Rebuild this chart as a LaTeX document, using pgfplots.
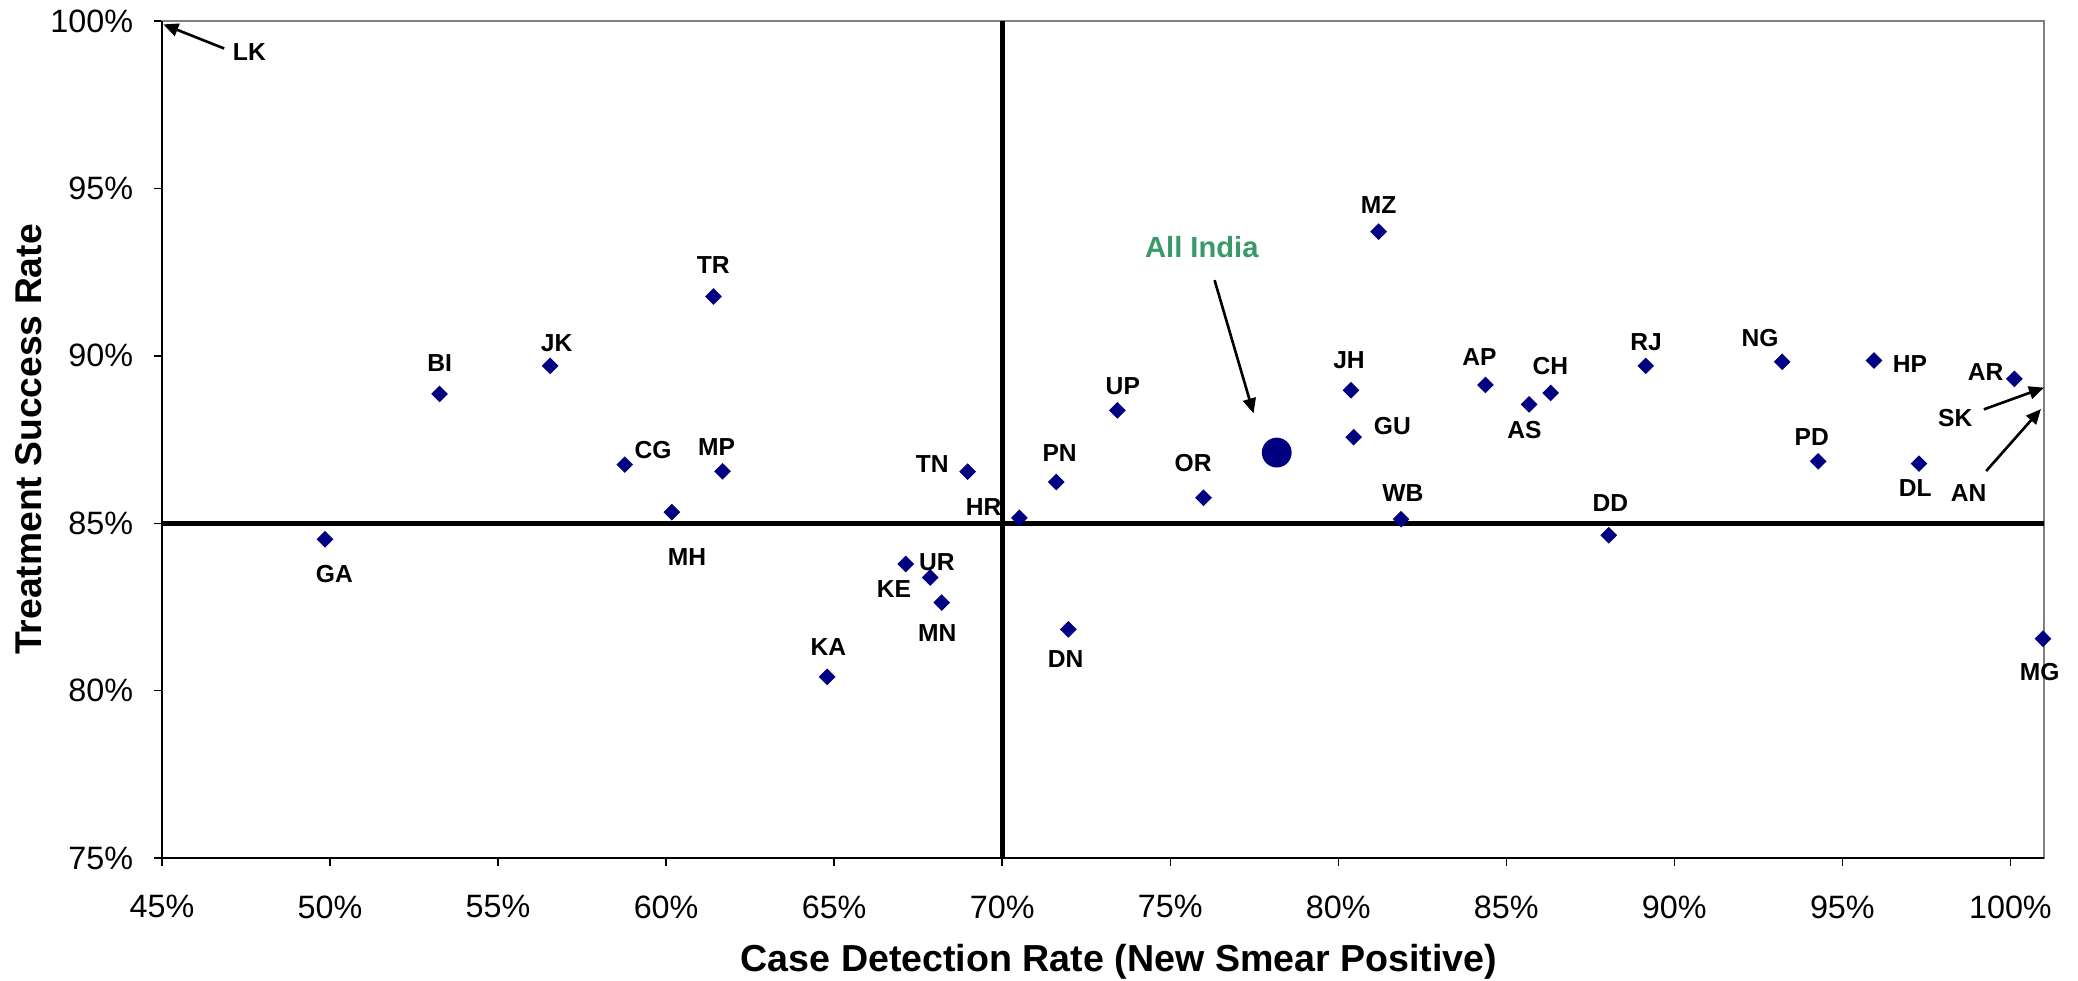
\documentclass[border=0pt]{standalone}
\usepackage{fontspec}
\setmainfont{Liberation Sans}
\usepackage{pgfplots}
\pgfplotsset{compat=1.18}
\usetikzlibrary{arrows.meta}
\definecolor{navyblue}{RGB}{0,0,128}
\definecolor{indiagreen}{RGB}{56,154,104}
\tikzset{lbl/.style={font=\bfseries\fontsize{7.0}{8}\selectfont}}
\begin{document}
\begin{tikzpicture}
\useasboundingbox (-16.2mm,-12.2mm) rectangle (191.6mm,85.8mm);
\begin{axis}[
  name=ax,
  at={(0,0)}, anchor=south west,
  scale only axis,
  width=188.2mm, height=83.7mm,
  xmin=45, xmax=101, ymin=75, ymax=100,
  xtick={45,50,55,60,65,70,75,80,85,90,95,100},
  ytick={75,80,85,90,95,100},
  /pgf/number format/assume math mode=true,
  xticklabel={\pgfmathprintnumber{\tick}\%},
  yticklabel={\pgfmathprintnumber{\tick}\%},
  tick label style={font=\fontsize{9.2}{11}\selectfont},
  tick align=outside, tick pos=left,
  major tick length=0.8mm,
  tick style={black, line width=0.4pt},
  axis line style={draw=gray, line width=0.4pt},
  clip=false,
  xticklabel style={yshift=-1.7mm},
  yticklabel style={xshift=-0.85mm},
]
% reference lines
\addplot[black, line width=0.5mm, forget plot] coordinates {(70,75) (70,100)};
\addplot[black, line width=0.5mm, forget plot] coordinates {(45,85) (101,85)};
% states
\addplot[only marks, mark=square*, mark size=0.52mm,
  mark options={rotate=45, fill=navyblue, draw=navyblue}] coordinates {
(49.85,84.52) (53.26,88.86) (56.55,89.70) (58.77,86.75) (60.17,85.33)
(61.68,86.55) (61.41,91.77) (64.79,80.41) (67.13,83.78) (67.86,83.38)
(68.20,82.63) (68.97,86.54) (70.51,85.16) (71.61,86.23) (71.97,81.83)
(73.43,88.37) (75.99,85.76) (80.38,88.97) (80.46,87.57) (81.20,93.71)
(81.87,85.12) (84.38,89.13) (85.68,88.55) (86.32,88.89) (88.05,84.64)
(89.15,89.70) (93.21,89.82) (94.28,86.85) (95.94,89.86) (97.28,86.78)
(100.12,89.31) (100.97,81.55)
};
% All India
\addplot[only marks, mark=*, mark size=1.42mm, mark options={fill=navyblue, draw=navyblue}] coordinates {(78.17,87.11)};
% axis lines left/bottom black
\draw[black, line width=0.4pt] (axis cs:45,100) -- (axis cs:45,75) -- (axis cs:101,75);
% labels
\node[lbl] at (axis cs:47.6,99.06) {LK};
\node[lbl] at (axis cs:50.13,83.48) {GA};
\node[lbl] at (axis cs:53.26,89.78) {BI};
\node[lbl] at (axis cs:56.74,90.37) {JK};
\node[lbl] at (axis cs:61.40,92.71) {TR};
\node[lbl] at (axis cs:59.61,87.19) {CG};
\node[lbl] at (axis cs:61.50,87.29) {MP};
\node[lbl] at (axis cs:60.62,83.98) {MH};
\node[lbl] at (axis cs:64.83,81.31) {KA};
\node[lbl] at (axis cs:67.92,86.77) {TN};
\node[lbl] at (axis cs:71.71,87.11) {PN};
\node[lbl] at (axis cs:69.45,85.47) {HR};
\node[lbl] at (axis cs:68.06,83.85) {UR};
\node[lbl] at (axis cs:66.78,83.03) {KE};
\node[lbl] at (axis cs:68.07,81.71) {MN};
\node[lbl] at (axis cs:71.89,80.93) {DN};
\node[lbl] at (axis cs:73.59,89.10) {UP};
\node[lbl] at (axis cs:75.68,86.79) {OR};
\node[lbl] at (axis cs:81.20,94.49) {MZ};
\node[lbl] at (axis cs:80.32,89.87) {JH};
\node[lbl] at (axis cs:81.61,87.90) {GU};
\node[lbl] at (axis cs:81.92,85.91) {WB};
\node[lbl] at (axis cs:84.20,89.97) {AP};
\node[lbl] at (axis cs:85.54,87.78) {AS};
\node[lbl] at (axis cs:86.31,89.70) {CH};
\node[lbl] at (axis cs:88.10,85.59) {DD};
\node[lbl] at (axis cs:89.16,90.41) {RJ};
\node[lbl] at (axis cs:92.55,90.53) {NG};
\node[lbl] at (axis cs:97.01,89.74) {HP};
\node[lbl] at (axis cs:94.09,87.57) {PD};
\node[lbl] at (axis cs:97.17,86.04) {DL};
\node[lbl] at (axis cs:99.26,89.52) {AR};
\node[lbl] at (axis cs:98.36,88.15) {SK};
\node[lbl] at (axis cs:98.76,85.91) {AN};
\node[lbl] at (axis cs:100.87,80.56) {MG};
\node[text=indiagreen, font=\bfseries\fontsize{8.3}{10}\selectfont] at (axis cs:75.94,93.26) {All India};
% arrows
\draw[black, line width=0.75pt, -{Triangle[length=1.5mm,width=1.3mm]}] (axis cs:46.85,99.18) -- (axis cs:45.04,99.90);
\draw[black, line width=0.75pt, -{Triangle[length=1.5mm,width=1.3mm]}] (axis cs:76.32,92.26) -- (axis cs:77.48,88.28);
\draw[black, line width=0.75pt, -{Triangle[length=1.5mm,width=1.3mm]}] (axis cs:99.21,88.40) -- (axis cs:101.0,89.05);
\draw[black, line width=0.75pt, -{Triangle[length=1.5mm,width=1.3mm]}] (axis cs:99.28,86.56) -- (axis cs:100.91,88.41);
\end{axis}
\node[anchor=base, font=\bfseries\fontsize{10.7}{12}\selectfont] at ([xshift=1.6mm, yshift=-11.3mm]ax.south) {Case Detection Rate (New Smear Positive)};
\node[rotate=90, anchor=base, font=\bfseries\fontsize{10.6}{12}\selectfont] at ([xshift=-12.0mm]ax.west) {Treatment Success Rate};
\end{tikzpicture}
\end{document}
